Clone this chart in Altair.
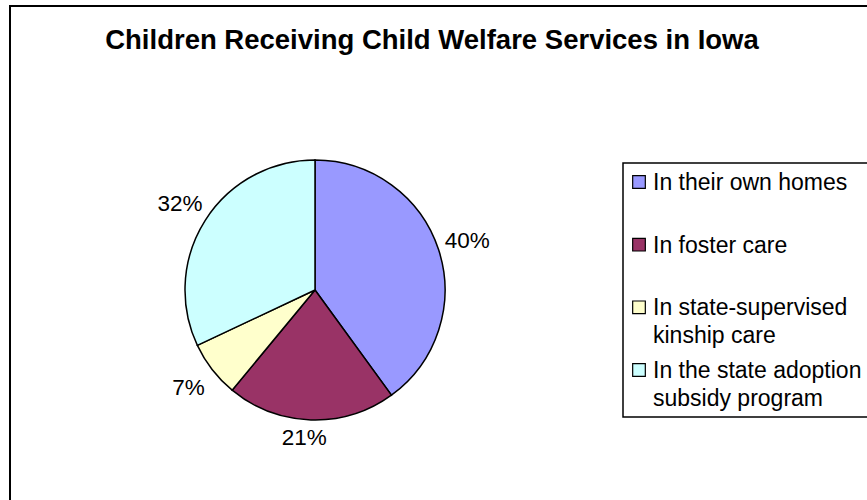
import altair as alt
import pandas as pd

title_text = "Children Receiving Child Welfare Services in Iowa"
categories = ["In their own homes", "In foster care",
              "In state-supervised kinship care",
              "In the state adoption subsidy program"]
legend_labels = ["In their own homes", "In foster care",
                 "In state-supervised\nkinship care",
                 "In the state adoption\nsubsidy program"]
percentages = [40, 21, 7, 32]
colors = ["#9999FF", "#993366", "#FFFFCC", "#CCFFFF"]

FONT = "Liberation Sans"

df = pd.DataFrame({
    "idx": list(range(len(categories))),
    "category": categories,
    "value": percentages,
    "legend": legend_labels,
})

color = alt.Color("category:N", scale=alt.Scale(domain=categories, range=colors), legend=None)
theta_scale = alt.Scale(domain=[0, 100])
CX, CY = 315, 290

frame = alt.Chart(pd.DataFrame({"a": [0]})).mark_rect(
    fill="white", stroke="black", strokeWidth=2
).encode(x=alt.value(10), y=alt.value(6), x2=alt.value(900), y2=alt.value(530))

title = alt.Chart(pd.DataFrame({"t": [title_text]})).mark_text(
    font=FONT, fontSize=27.5, fontWeight="bold", align="center", baseline="middle", color="black"
).encode(text="t:N", x=alt.value(432), y=alt.value(41))

base = alt.Chart(df)

pie = base.mark_arc(radius=130, stroke="black", strokeWidth=1.5).encode(
    theta=alt.Theta("value:Q", stack=True, scale=theta_scale),
    color=color,
    order=alt.Order("idx:Q"),
    x=alt.value(CX), y=alt.value(CY),
)

lab_base = base.transform_window(
    cum="sum(value)", sort=[alt.SortField("idx")], frame=[None, 0]
).transform_calculate(
    mid="datum.cum - datum.value / 2", label="datum.value + '%'"
)

side_labels = lab_base.transform_filter("datum.idx != 1").mark_text(
    radius=160, font=FONT, fontSize=22.5, align="center", baseline="middle", color="black"
).encode(
    theta=alt.Theta("mid:Q", stack=None, scale=theta_scale),
    text="label:N", x=alt.value(CX), y=alt.value(CY),
)
bottom_labels = lab_base.transform_filter("datum.idx == 1").mark_text(
    radius=148, font=FONT, fontSize=22.5, align="center", baseline="middle", color="black"
).encode(
    theta=alt.Theta("mid:Q", stack=None, scale=theta_scale),
    text="label:N", x=alt.value(CX - 6), y=alt.value(CY),
)

legend_box = alt.Chart(pd.DataFrame({"a": [0]})).mark_rect(
    fill="white", stroke="black", strokeWidth=1.5
).encode(x=alt.value(623), y=alt.value(163), x2=alt.value(900), y2=alt.value(417))

ly = alt.Y("idx:Q", scale=alt.Scale(domain=[0, 3], range=[182, 370]), axis=None)
leg_sym = base.mark_square(size=160, stroke="black", strokeWidth=1.2, opacity=1).encode(
    x=alt.value(639), y=ly, color=color
)
leg_txt = base.mark_text(
    font=FONT, fontSize=23, align="left", baseline="alphabetic", dy=8,
    lineBreak="\n", lineHeight=28, color="black"
).encode(x=alt.value(653), y=ly, text="legend:N")

chart = alt.layer(
    frame, title, pie, side_labels, bottom_labels, legend_box, leg_sym, leg_txt
).properties(
    width=867, height=500, autosize=alt.AutoSizeParams(type="none"), padding=0,
    background="white"
).configure_view(stroke=None)

chart.save("out.html", embed_options={"renderer": "svg", "actions": False})
